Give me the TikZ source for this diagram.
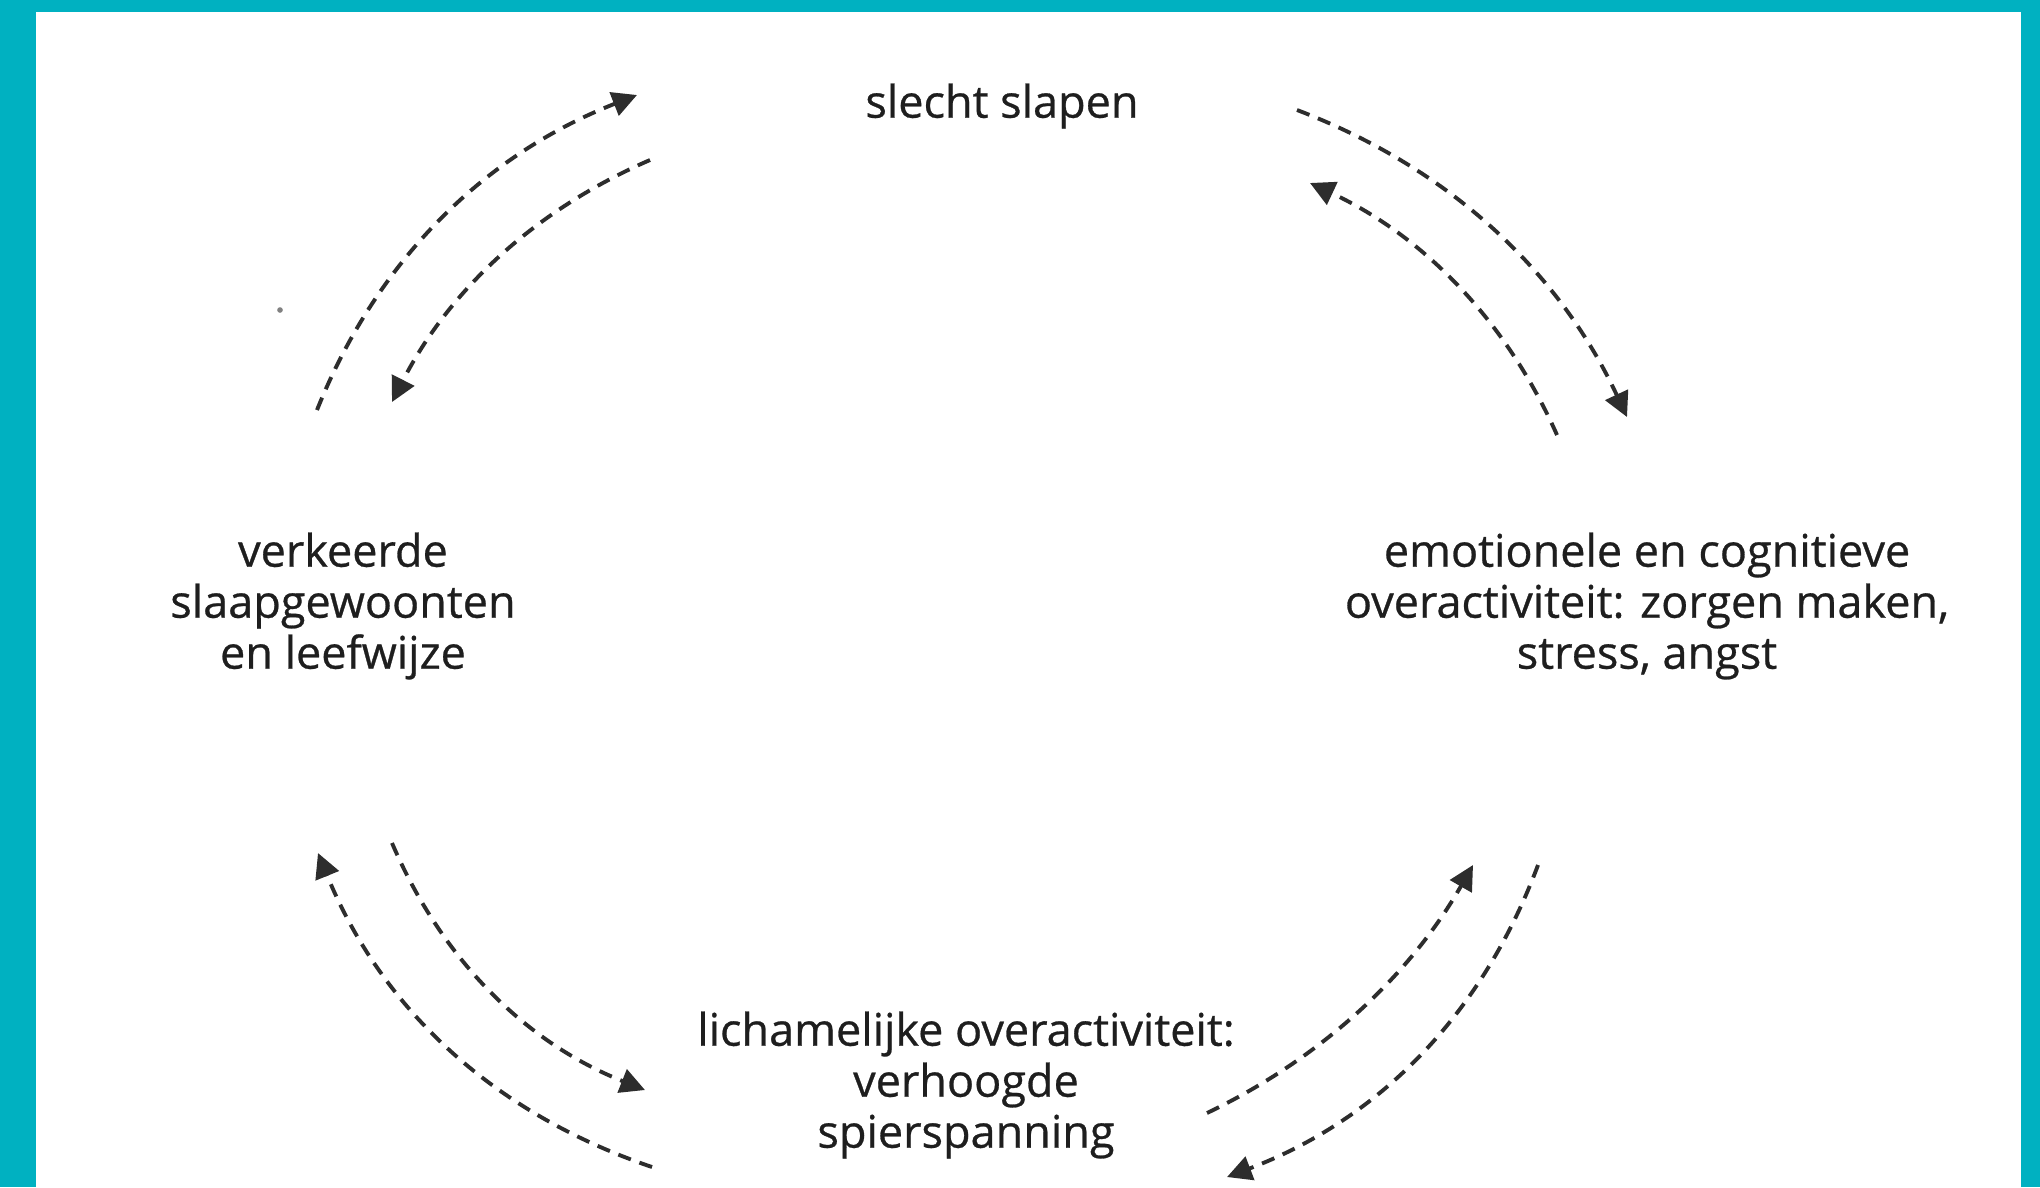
\documentclass[tikz,border=0pt]{standalone}
\usepackage{fontspec}
\setmainfont{Open Sans}
\newfontfamily\labelfont{Open Sans}[FakeBold=0.6]
\usetikzlibrary{arrows.meta}
\definecolor{frame}{RGB}{0,177,193}
\definecolor{ink}{RGB}{30,30,30}
\definecolor{arrowink}{RGB}{45,45,45}
\tikzset{
  label/.style={align=center, text=ink, font=\labelfont\fontsize{12.8}{14.5}\selectfont, inner sep=0pt},
  cyclearrow/.style={draw=arrowink, line width=1.1pt, dash pattern=on 3.8pt off 2.6pt,
    -{Triangle[length=7pt,width=7pt]}}
}
\begin{document}
\begin{tikzpicture}[x=0.01cm,y=-0.01cm]
\useasboundingbox (0,0) rectangle (2040,1187);
\fill[white] (0,0) rectangle (2040,1187);
\fill[frame] (0,0) rectangle (36,1187);
\fill[frame] (0,0) rectangle (2040,12);
\fill[frame] (2021,0) rectangle (2040,1187);

% labels
\node[label] (top) at (1002,106) {slecht slapen};
\node[label] (left) at (343,606) {verkeerde\\slaapgewoonten\\en leefwijze};
\node[label] (right) at (1647,606) {emotionele en cognitieve\\overactiviteit: zorgen maken,\\stress, angst};
\node[label] (bottom) at (966,1085) {lichamelijke overactiviteit:\\verhoogde\\spierspanning};

% arrow end points
\coordinate (tlOs) at (317,410);  \coordinate (tlOe) at (637,95);
\coordinate (tlIs) at (650,160);  \coordinate (tlIe) at (392,402);
\coordinate (trOs) at (1297,110); \coordinate (trOe) at (1627,417);
\coordinate (trIs) at (1557,435); \coordinate (trIe) at (1310,183);
\coordinate (blOs) at (652,1167); \coordinate (blOe) at (318,853);
\coordinate (blIs) at (392,843);  \coordinate (blIe) at (645,1090);
\coordinate (brIs) at (1207,1113);\coordinate (brIe) at (1473,865);
\coordinate (brOs) at (1538,865); \coordinate (brOe) at (1227,1177);

% arrows
\draw[cyclearrow] (tlOs) .. controls (377,260.3) and (483.7,155.3) .. (tlOe);
\draw[cyclearrow] (tlIs) .. controls (534.7,210) and (448.7,290.7) .. (tlIe);
\draw[cyclearrow] (trOs) .. controls (1448.3,167.7) and (1558.3,270) .. (trOe);
\draw[cyclearrow] (trIs) .. controls (1506,320.3) and (1423.7,236.3) .. (trIe);
\draw[cyclearrow] (blOs) .. controls (492.7,1113) and (381.3,1008.3) .. (blOe);
\draw[cyclearrow] (blIs) .. controls (442.3,960.7) and (526.7,1043) .. (blIe);
\draw[cyclearrow] (brIs) .. controls (1321,1058.3) and (1409.7,975.7) .. (brIe);
\draw[cyclearrow] (brOs) .. controls (1481.7,1015.7) and (1378,1119.7) .. (brOe);

% stray dot
\fill[arrowink!60] (280,310) circle[radius=0.8pt];
\end{tikzpicture}
\end{document}
